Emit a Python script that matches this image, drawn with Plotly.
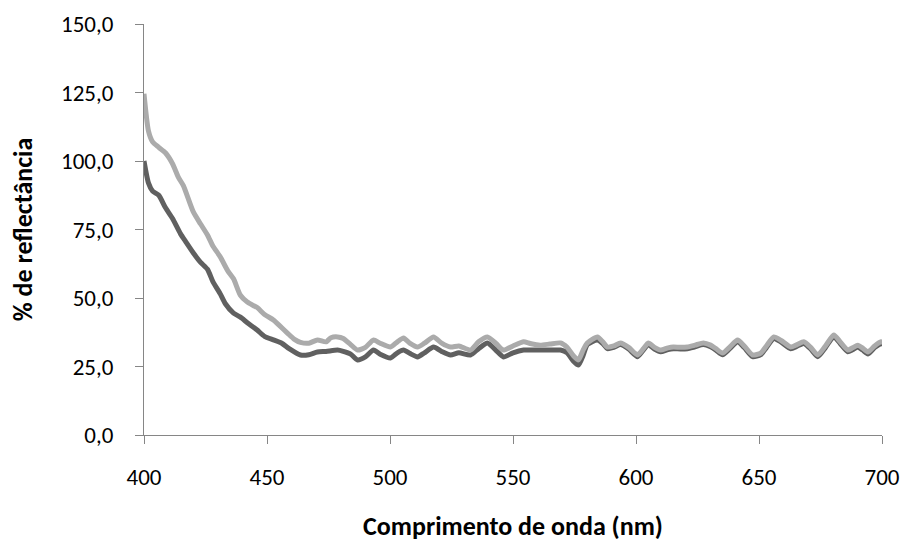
import plotly.graph_objects as go

# Wavelength (nm) and reflectance values
wl_light = [400, 401.8, 403.5, 406, 408.7, 411.6, 414, 416, 420, 423, 425.8, 428, 431, 434, 436.4,
            439.2, 442, 446, 449, 452.6, 455, 458.3, 461, 463.6, 467, 470.5, 474, 476, 478.7, 481,
            484, 486.8, 490, 493.3, 496, 500.2, 503, 505.5, 508, 511.2, 514, 517.7, 521, 524.6, 528,
            532.7, 536, 539.6, 543, 546.1, 550, 554.3, 557, 561, 565, 569.3, 572, 574.5, 576.6, 578.5,
            580.2, 584.3, 586.5, 588.4, 591, 593.7, 597, 600.6, 603, 605, 607.5, 610, 613, 615.2, 618,
            620.9, 624, 627.4, 630.3, 632.5, 635.2, 638, 641.3, 644, 647.4, 650.7, 653, 656, 659, 662.9,
            665.5, 668.2, 671, 673.9, 677, 680.4, 683, 686.1, 688, 690.2, 692, 694.3, 697, 699.6, 700.5]
refl_light = [124.5, 111, 107, 105, 103, 99, 94, 91, 81.5, 77, 73, 69, 65, 60, 57,
              51, 48.5, 46.5, 44, 42, 40, 37.2, 35, 33.8, 33.5, 34.7, 34, 35.5, 35.8, 35.2,
              33, 31, 32, 34.7, 33.5, 32.1, 34, 35.4, 33.5, 32.1, 33.5, 35.8, 33.5, 32.1, 32.5,
              31, 34, 35.8, 33.5, 31, 32.5, 34, 33.4, 32.8, 33.2, 33.6, 32, 29, 27.4, 31,
              33.6, 35.8, 34, 32.1, 32.5, 33.6, 32, 29.2, 31.5, 33.6, 32, 31, 31.8, 32.1, 32,
              32.1, 32.8, 33.6, 32.8, 31.5, 29.9, 32, 34.7, 32.5, 29.2, 29.9, 32.5, 35.8, 34.5, 32.1,
              33, 34, 32, 29.2, 32.5, 36.5, 34, 31, 31.8, 32.8, 31.8, 30.3, 32.5, 34, 33.8]

wl_dark = [400, 401.8, 403.5, 406, 408.7, 411.6, 414.8, 417, 420, 423, 425.8, 428, 431, 433, 436.4,
           439.2, 442, 446, 449, 452.6, 456, 459, 463.6, 467, 470.5, 474, 478.7, 481, 484, 486.8,
           490, 493.3, 496, 500.2, 503, 505.5, 508, 511.2, 514, 517.7, 521, 524.6, 528, 532.7, 536,
           539.6, 543, 546.1, 550, 554.3, 557, 561, 565, 569.3, 572, 574.5, 576.6, 578.5, 580.2, 584.3,
           586.5, 588.4, 591, 593.7, 597, 600.6, 603, 605, 607.5, 610, 613, 615.2, 618, 620.9, 624,
           627.4, 630.3, 632.5, 635.2, 638, 641.3, 644, 647.4, 650.7, 653, 656, 659, 662.9, 665.5,
           668.2, 671, 673.9, 677, 680.4, 683, 686.1, 688, 690.2, 692, 694.3, 697, 699.6, 700.5]
refl_dark = [100, 92, 89, 87.5, 83, 79, 73.5, 70.5, 66.5, 63, 60.5, 56, 51.5, 48, 44.5,
             43, 41, 38.3, 36, 34.7, 33.5, 31.5, 29.2, 29.3, 30.3, 30.5, 31, 30.5, 29.5, 27.4,
             28.5, 31, 29.5, 28.1, 30, 31, 29.8, 28.5, 30, 32.1, 30.5, 29.2, 30, 29.2, 31.5,
             33.6, 31, 28.5, 30, 31, 31, 31, 31, 31, 30, 27, 25.5, 29, 33, 34.7,
             33.4, 31.5, 32, 33, 31.4, 28.6, 31, 33, 31.4, 30.4, 31.2, 31.5, 31.4, 31.5, 32.2,
             33, 32.2, 31, 29.3, 31.4, 34.1, 31.9, 28.6, 29.3, 31.9, 35.2, 33.9, 31.5, 32.4,
             33.4, 31.4, 28.6, 31.9, 35.9, 33.4, 30.4, 31.1, 32.1, 31.1, 29.6, 31.9, 33.3, 33.2]

x_ticks = [400, 450, 500, 550, 600, 650, 700]
y_ticks = [0, 25, 50, 75, 100, 125, 150]

FONT = "Calibri, Carlito, Lato, sans-serif"
AXIS = "#868686"

fig = go.Figure()
fig.add_trace(go.Scatter(x=wl_dark, y=refl_dark, mode="lines",
                         line=dict(color="#606060", width=5, shape="spline", smoothing=0.6),
                         showlegend=False, hoverinfo="skip"))
fig.add_trace(go.Scatter(x=wl_light, y=refl_light, mode="lines",
                         line=dict(color="#ababab", width=5, shape="spline", smoothing=0.6),
                         showlegend=False, hoverinfo="skip"))

fig.update_layout(
    width=907, height=542,
    margin=dict(l=143.5, r=25, t=24, b=107),
    paper_bgcolor="white", plot_bgcolor="white",
    separators=",.",
    font=dict(family=FONT, size=23, color="#000000"),
)
fig.update_xaxes(
    range=[400, 700], tickmode="array", tickvals=x_ticks, automargin=False,
    showgrid=False, zeroline=False,
    showline=True, linecolor=AXIS, linewidth=1,
    ticks="outside", ticklen=8, tickcolor=AXIS, tickwidth=1,
    tickfont=dict(family=FONT, size=23), ticklabelstandoff=13,
    title=dict(text="<b>Comprimento de onda (nm)</b>", font=dict(family=FONT, size=26), standoff=27),
)
fig.update_yaxes(
    range=[0, 150], tickmode="array", tickvals=y_ticks, tickformat=".1f", automargin=False,
    showgrid=False, zeroline=False,
    showline=True, linecolor=AXIS, linewidth=1,
    ticks="outside", ticklen=8, tickcolor=AXIS, tickwidth=1,
    tickfont=dict(family=FONT, size=23), ticklabelstandoff=17,
    title=dict(text="<b>% de reflectância</b>", font=dict(family=FONT, size=26), standoff=20),
)

fig.write_html("out.html")
